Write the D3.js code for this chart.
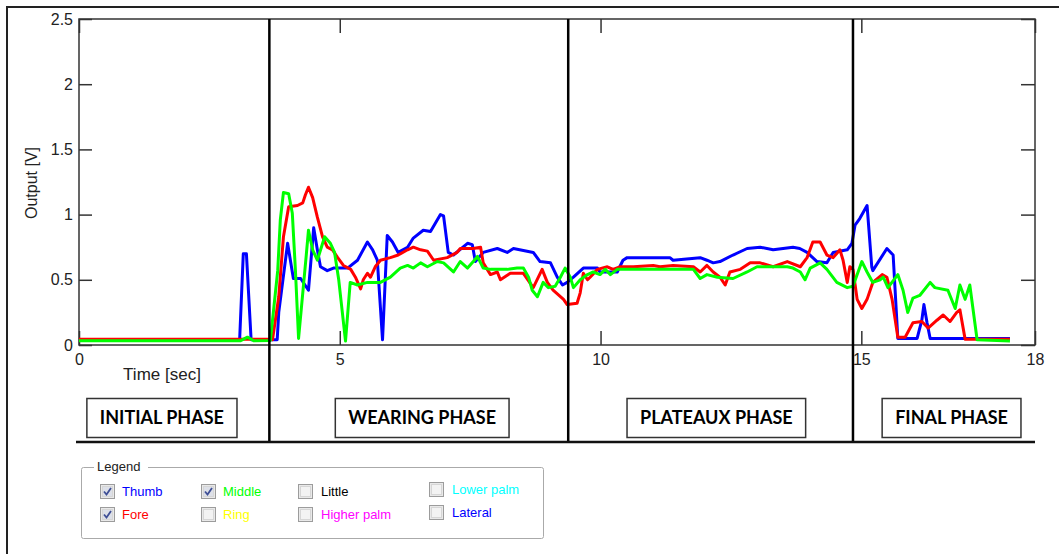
<!DOCTYPE html>
<meta charset="utf-8">
<style>

body {
  margin: 0;
  background: #fff;
}

svg {
  display: block;
}

.axis text {
  font-family: "Liberation Sans", Arial, sans-serif;
  font-size: 16px;
  fill: #222;
}

.axis path,
.axis line {
  stroke: #333;
  stroke-width: 1.5;
}

.series {
  fill: none;
  stroke-width: 3;
  stroke-linejoin: round;
}

.phaseLabel {
  font-family: Lato, "Open Sans", sans-serif;
  font-weight: bold;
  font-size: 18px;
  fill: #000;
}

.legendText {
  font-family: "Liberation Sans", Arial, sans-serif;
  font-size: 13px;
}

</style>
<svg width="1059" height="554"></svg>
<script src="https://d3js.org/d3.v7.min.js"></script>
<script>

// time [sec], output [V]
var thumb = [
  [0, 0.04], [3.08, 0.04], [3.15, 0.70], [3.21, 0.70], [3.30, 0.04], [3.80, 0.04],
  [3.83, 0.25], [4.00, 0.78], [4.11, 0.51], [4.25, 0.51], [4.40, 0.42], [4.50, 0.90],
  [4.57, 0.73], [4.63, 0.60], [4.76, 0.57], [4.88, 0.59], [5.15, 0.59], [5.34, 0.65],
  [5.53, 0.79], [5.63, 0.73], [5.72, 0.65], [5.82, 0.04], [5.91, 0.84], [6.01, 0.79],
  [6.12, 0.71], [6.30, 0.75], [6.41, 0.82], [6.60, 0.88], [6.74, 0.87], [6.93, 1.00],
  [6.99, 0.99], [7.08, 0.71], [7.18, 0.69], [7.45, 0.78], [7.54, 0.77], [7.60, 0.64],
  [7.75, 0.71], [8.02, 0.74], [8.21, 0.71], [8.33, 0.74], [8.71, 0.71], [8.84, 0.64],
  [9.04, 0.63], [9.17, 0.52], [9.27, 0.46], [9.36, 0.48], [9.48, 0.52], [9.67, 0.59],
  [9.94, 0.59], [9.99, 0.56], [10.32, 0.56], [10.43, 0.65], [10.51, 0.67], [11.33, 0.67],
  [11.39, 0.65], [11.91, 0.67], [12.04, 0.65], [12.16, 0.63], [12.29, 0.64], [12.54, 0.69],
  [12.81, 0.74], [13.06, 0.75], [13.31, 0.73], [13.69, 0.75], [13.82, 0.74], [13.96, 0.71],
  [14.15, 0.64], [14.34, 0.63], [14.46, 0.71], [14.73, 0.73], [14.82, 0.78], [14.88, 0.92],
  [14.97, 0.97], [15.11, 1.07], [15.20, 0.60], [15.22, 0.57], [15.49, 0.74], [15.61, 0.69],
  [15.70, 0.05], [16.07, 0.05], [16.16, 0.19], [16.20, 0.31], [16.26, 0.17], [16.32, 0.05],
  [17.85, 0.05]
];

var fore = [
  [0, 0.045], [3.67, 0.045], [3.71, 0.04], [3.83, 0.37], [3.92, 0.83], [4.02, 1.06],
  [4.19, 1.07], [4.29, 1.09], [4.34, 1.15], [4.40, 1.21], [4.48, 1.13], [4.57, 0.98],
  [4.67, 0.83], [4.76, 0.75], [4.86, 0.73], [4.96, 0.67], [5.07, 0.61], [5.21, 0.58],
  [5.30, 0.52], [5.40, 0.43], [5.45, 0.50], [5.53, 0.55], [5.59, 0.52], [5.68, 0.60],
  [5.78, 0.65], [5.97, 0.67], [6.12, 0.69], [6.30, 0.73], [6.41, 0.75], [6.55, 0.73],
  [6.68, 0.72], [6.80, 0.65], [7.06, 0.67], [7.25, 0.71], [7.31, 0.74], [7.56, 0.74],
  [7.70, 0.75], [7.75, 0.63], [7.89, 0.54], [8.02, 0.56], [8.08, 0.50], [8.27, 0.55],
  [8.52, 0.55], [8.71, 0.44], [8.88, 0.58], [8.98, 0.48], [9.09, 0.42], [9.29, 0.35],
  [9.36, 0.31], [9.55, 0.32], [9.61, 0.40], [9.67, 0.55], [9.75, 0.50], [9.80, 0.52],
  [9.94, 0.58], [10.13, 0.60], [10.24, 0.58], [10.38, 0.60], [10.63, 0.60], [11.01, 0.61],
  [11.14, 0.60], [11.39, 0.61], [11.78, 0.60], [11.91, 0.56], [12.04, 0.61], [12.16, 0.56],
  [12.29, 0.52], [12.39, 0.46], [12.48, 0.56], [12.68, 0.58], [12.87, 0.63], [13.06, 0.63],
  [13.31, 0.60], [13.58, 0.64], [13.83, 0.60], [13.96, 0.67], [14.07, 0.79], [14.21, 0.79],
  [14.34, 0.69], [14.46, 0.67], [14.59, 0.73], [14.65, 0.65], [14.73, 0.48], [14.78, 0.60],
  [14.84, 0.58], [14.92, 0.35], [15.01, 0.28], [15.11, 0.35], [15.22, 0.48], [15.40, 0.54],
  [15.49, 0.52], [15.59, 0.35], [15.70, 0.06], [15.84, 0.06], [15.99, 0.17], [16.16, 0.18],
  [16.28, 0.13], [16.45, 0.19], [16.57, 0.23], [16.70, 0.18], [16.83, 0.25], [16.89, 0.27],
  [16.99, 0.045], [17.85, 0.045]
];

var middle = [
  [0, 0.033], [3.10, 0.033], [3.23, 0.06], [3.35, 0.033], [3.67, 0.035], [3.81, 0.57],
  [3.86, 0.96], [3.92, 1.17], [4.02, 1.16], [4.09, 1.01], [4.15, 0.57], [4.21, 0.05],
  [4.30, 0.44], [4.36, 0.70], [4.40, 0.88], [4.48, 0.73], [4.57, 0.65], [4.71, 0.83],
  [4.82, 0.78], [4.90, 0.71], [4.98, 0.50], [5.11, 0.03], [5.20, 0.48], [5.34, 0.46],
  [5.53, 0.48], [5.78, 0.48], [5.97, 0.52], [6.16, 0.59], [6.30, 0.61], [6.41, 0.59],
  [6.55, 0.63], [6.68, 0.60], [6.87, 0.64], [6.99, 0.63], [7.18, 0.56], [7.31, 0.64],
  [7.45, 0.59], [7.56, 0.64], [7.64, 0.68], [7.75, 0.59], [7.89, 0.58], [8.21, 0.58],
  [8.40, 0.59], [8.52, 0.59], [8.62, 0.52], [8.69, 0.42], [8.79, 0.37], [8.90, 0.48],
  [9.00, 0.44], [9.13, 0.45], [9.23, 0.52], [9.32, 0.59], [9.42, 0.52], [9.48, 0.44],
  [9.61, 0.50], [9.75, 0.54], [9.86, 0.56], [9.99, 0.54], [10.09, 0.58], [10.19, 0.54],
  [10.32, 0.58], [11.78, 0.58], [11.91, 0.51], [12.04, 0.54], [12.24, 0.52], [12.54, 0.51],
  [12.81, 0.56], [13.00, 0.60], [13.58, 0.60], [13.69, 0.59], [13.83, 0.56], [13.92, 0.50],
  [14.02, 0.59], [14.21, 0.63], [14.34, 0.58], [14.53, 0.48], [14.73, 0.44], [14.84, 0.45],
  [15.01, 0.64], [15.11, 0.56], [15.22, 0.48], [15.36, 0.50], [15.42, 0.52], [15.51, 0.44],
  [15.70, 0.54], [15.80, 0.42], [15.89, 0.25], [15.99, 0.36], [16.12, 0.38], [16.32, 0.48],
  [16.41, 0.44], [16.66, 0.42], [16.80, 0.28], [16.89, 0.46], [16.99, 0.35], [17.08, 0.46],
  [17.22, 0.04], [17.85, 0.03]
];

var seriesData = [thumb, fore, middle];
var seriesColors = ["#0000ff", "#ff0000", "#00ff00"];

var yTicks = [0, 0.5, 1, 1.5, 2, 2.5];
var xTicks = [0, 5, 10, 15, 18.33];
var xTickLabels = ["0", "5", "10", "15", "18"];

var phaseBounds = [3.65, 9.38, 14.84];
var phaseNames = ["INITIAL PHASE", "WEARING PHASE", "PLATEAUX PHASE", "FINAL PHASE"];
var phaseLabelTimes = [1.59, 6.58, 12.22, 16.73];

var legendNames = ["Thumb", "Fore", "Middle", "Ring", "Little", "Higher palm", "Lower palm", "Lateral"];
var legendColors = ["#0000ff", "#ff0000", "#00ff00", "#ffff00", "#000000", "#ff00ff", "#00ffff", "#0000ff"];
var legendChecked = [true, true, true, false, false, false, false, false];

var svg = d3.select("svg");

var plotLeft = 79, plotRight = 1035, plotTop = 19, plotBottom = 345;

var x = d3.scaleLinear().domain([0, 18.33]).range([plotLeft, plotRight]);
var y = d3.scaleLinear().domain([0, 2.5]).range([plotBottom, plotTop]);

// outer window frame (only top and left edges show)
svg.append("path")
    .attr("d", "M7,554V7H1059")
    .attr("fill", "none")
    .attr("stroke", "#222")
    .attr("stroke-width", 2);

// axes
svg.append("g")
    .attr("class", "axis")
    .attr("transform", "translate(" + plotLeft + ",0)")
    .call(d3.axisLeft(y).tickValues(yTicks).tickSize(-13).tickPadding(6)
      .tickFormat(function(d) { return d; }))
  .select(".domain").remove();

svg.append("g")
    .attr("class", "axis")
    .attr("transform", "translate(" + plotRight + ",0)")
    .call(d3.axisRight(y).tickValues(yTicks).tickSize(-14).tickFormat(""))
  .select(".domain").remove();

svg.append("g")
    .attr("class", "axis")
    .attr("transform", "translate(0," + plotBottom + ")")
    .call(d3.axisBottom(x).tickValues(xTicks).tickSize(-14).tickPadding(9)
      .tickFormat(function(d, i) { return xTickLabels[i]; }))
  .select(".domain").remove();

svg.append("g")
    .attr("class", "axis")
    .attr("transform", "translate(0," + plotTop + ")")
    .call(d3.axisTop(x).tickValues(xTicks).tickSize(-14).tickFormat(""))
  .select(".domain").remove();

svg.append("rect")
    .attr("x", plotLeft)
    .attr("y", plotTop)
    .attr("width", plotRight - plotLeft)
    .attr("height", plotBottom - plotTop)
    .attr("fill", "none")
    .attr("stroke", "#333")
    .attr("stroke-width", 1.5);

svg.append("text")
    .attr("x", 162)
    .attr("y", 380)
    .attr("text-anchor", "middle")
    .attr("font-family", "Liberation Sans, Arial, sans-serif")
    .attr("font-size", 17)
    .attr("fill", "#222")
    .text("Time [sec]");

svg.append("text")
    .attr("transform", "translate(37,183) rotate(-90)")
    .attr("text-anchor", "middle")
    .attr("font-family", "Liberation Sans, Arial, sans-serif")
    .attr("font-size", 16)
    .attr("fill", "#222")
    .text("Output [V]");

// signals
var line = d3.line()
    .x(function(d) { return x(d[0]); })
    .y(function(d) { return y(d[1]); });

svg.append("g")
  .selectAll("path")
  .data(seriesData)
  .enter().append("path")
    .attr("class", "series")
    .attr("stroke", function(d, i) { return seriesColors[i]; })
    .attr("d", line);

// phase separators
svg.append("g")
  .selectAll("line")
  .data(phaseBounds)
  .enter().append("line")
    .attr("x1", function(d) { return x(d); })
    .attr("x2", function(d) { return x(d); })
    .attr("y1", plotTop)
    .attr("y2", 442)
    .attr("stroke", "#000")
    .attr("stroke-width", 2.5);

svg.append("line")
    .attr("x1", 76)
    .attr("x2", plotRight)
    .attr("y1", 442)
    .attr("y2", 442)
    .attr("stroke", "#111")
    .attr("stroke-width", 2.5);

// phase label boxes
var phase = svg.append("g")
  .selectAll("g")
  .data(phaseNames)
  .enter().append("g");

phase.append("rect");
phase.append("text")
    .attr("class", "phaseLabel")
    .attr("x", function(d, i) { return x(phaseLabelTimes[i]); })
    .attr("y", 424)
    .attr("text-anchor", "middle")
    .text(function(d) { return d; });

phase.each(function(d, i) {
  var g = d3.select(this);
  var w = g.select("text").node().getComputedTextLength() + 26;
  g.select("rect")
      .attr("x", x(phaseLabelTimes[i]) - w / 2)
      .attr("y", 398.5)
      .attr("width", w)
      .attr("height", 39)
      .attr("fill", "#fff")
      .attr("stroke", "#333")
      .attr("stroke-width", 1.5);
});

// legend group box
var legend = svg.append("g");

legend.append("rect")
    .attr("x", 81.5)
    .attr("y", 467.5)
    .attr("width", 462)
    .attr("height", 71)
    .attr("rx", 2)
    .attr("fill", "none")
    .attr("stroke", "#aaa");

legend.append("rect")
    .attr("x", 94)
    .attr("y", 462)
    .attr("width", 54)
    .attr("height", 10)
    .attr("fill", "#fff");

legend.append("text")
    .attr("class", "legendText")
    .attr("x", 97)
    .attr("y", 471)
    .attr("fill", "#222")
    .text("Legend");

var colX = [100, 201, 298, 429];
var rowY = [484, 507];

var item = legend.selectAll(".item")
  .data(legendNames)
  .enter().append("g")
    .attr("class", "item")
    .attr("transform", function(d, i) {
      var c = Math.floor(i / 2), r = i % 2;
      return "translate(" + colX[c] + "," + (rowY[r] - (c === 3 ? 2 : 0)) + ")";
    });

item.append("rect")
    .attr("x", 0.5)
    .attr("y", 0.5)
    .attr("width", 14)
    .attr("height", 14)
    .attr("fill", "#e9e9e9")
    .attr("stroke", "#9c9c9c");

item.append("rect")
    .attr("x", 2.5)
    .attr("y", 2.5)
    .attr("width", 10)
    .attr("height", 10)
    .attr("fill", function(d, i) { return legendChecked[i] ? "#dde0e8" : "#f3f3f3"; })
    .attr("stroke", "#d6d6d6");

item.filter(function(d, i) { return legendChecked[i]; })
  .append("path")
    .attr("d", "M4,7.5L6.5,10.5L11,4")
    .attr("fill", "none")
    .attr("stroke", "#3f4f96")
    .attr("stroke-width", 1.8);

item.append("text")
    .attr("class", "legendText")
    .attr("x", function(d, i) { return Math.floor(i / 2) < 2 ? 22 : 23; })
    .attr("y", 12)
    .attr("fill", function(d, i) { return legendColors[i]; })
    .text(function(d) { return d; });

</script>
